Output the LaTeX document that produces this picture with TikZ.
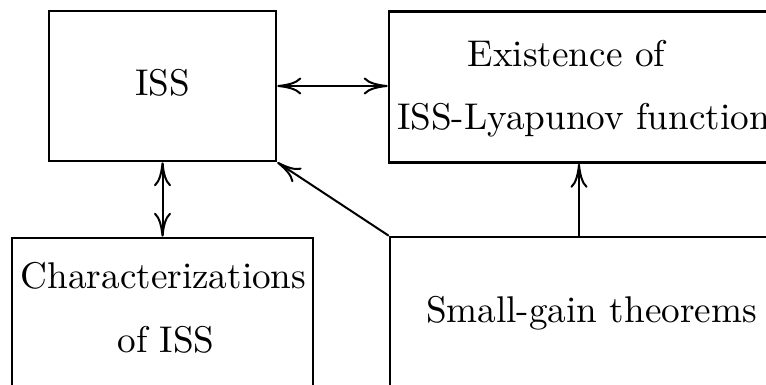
\documentclass[tikz,border=0pt]{standalone}
\usepackage{fontspec}
\setmainfont{lmroman10-regular.otf}
\usetikzlibrary{arrows.meta}
\begin{document}
\begin{tikzpicture}[x=1pt,y=-1pt,
  box/.style={draw,line width=2.6pt,rectangle,inner sep=0pt},
  lbl/.style={inner sep=0pt,font=\fontsize{37.2}{44}\selectfont},
  tip/.tip={Computer Modern Rightarrow[length=24pt,width=17pt,line width=2pt]},
  arr/.style={line width=2pt,arrows={tip-tip}},
  arrto/.style={line width=2pt,arrows={-tip}}]
\useasboundingbox (0,0) rectangle (766,385);
\clip (0,0) rectangle (766,385);
% boxes
\node[box,minimum width=227pt,minimum height=150pt] (iss) at (162.5,86) {};
\node[box,minimum width=401pt,minimum height=151pt] (exist) at (589.5,87) {};
\node[box,minimum width=301pt,minimum height=182pt] (char) at (162.5,329) {};
\node[box,minimum width=410pt,minimum height=183pt] (small) at (595,328.5) {};
% texts
\node[lbl,anchor=base] (tiss) at (162.7,95.5) {ISS};
\node[lbl,anchor=base] (tex1) at (566.5,67) {Existence of};
\node[lbl,anchor=base west] (tex2) at (397,130) {ISS-Lyapunov function};
\node[lbl,anchor=base] (tch1) at (163.5,288) {Characterizations};
\node[lbl,anchor=base] (tch2) at (166,352) {of ISS};
\node[lbl,anchor=base] (tsg) at (591.5,322.5) {Small-gain theorems};
% connectors
\draw[arr] (iss.east) -- (iss.east -| exist.west);
\draw[arr] (iss.south) -- (char.north);
\draw[arrto] (small.north west) -- (iss.south east);
\coordinate (sgtop) at (579,237);
\draw[arrto] (sgtop) -- (sgtop |- exist.south);
\end{tikzpicture}
\end{document}
